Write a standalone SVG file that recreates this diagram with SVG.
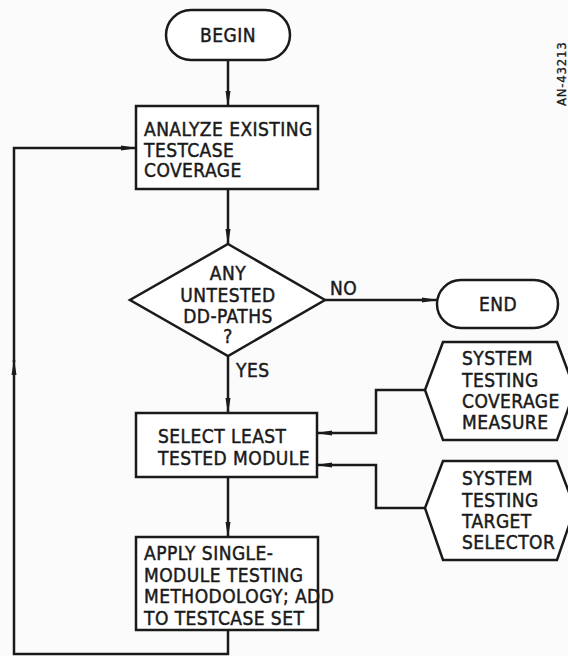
<svg xmlns="http://www.w3.org/2000/svg" width="568" height="656" viewBox="0 0 568 656">
<style>
.s{fill:#fff;stroke:#1a1a1a;stroke-width:2.5}
.c{fill:none;stroke:#1a1a1a;stroke-width:2.5;stroke-linejoin:miter}
text{font-family:"DejaVu Sans Condensed","DejaVu Sans",sans-serif;font-size:19px;letter-spacing:0.45px;fill:#1a1a1a;stroke:#1a1a1a;stroke-width:0.45}
.m{text-anchor:middle}
</style>
<defs>
<marker id="a" viewBox="0 0 16 8" refX="15" refY="4" markerWidth="16" markerHeight="8" markerUnits="userSpaceOnUse" orient="auto">
<path d="M0,1.5 L16,4 L0,6.5 Z" fill="#1a1a1a"/>
</marker>
</defs>
<rect width="568" height="656" fill="#fbfbfb"/>
<g id="connectors">
<path class="c" d="M228,60 V106" marker-end="url(#a)"/>
<path class="c" d="M228,189 V244" marker-end="url(#a)"/>
<path class="c" d="M325,300 H437" marker-end="url(#a)"/>
<path class="c" d="M228,356 V413" marker-end="url(#a)"/>
<path class="c" d="M228,477 V537" marker-end="url(#a)"/>
<path class="c" d="M425,390 H376 V433 H317" marker-end="url(#a)"/>
<path class="c" d="M425,508 H376 V465 H317" marker-end="url(#a)"/>
<path class="c" d="M228,630 V654 H14 V360"  marker-end="url(#a)"/>
<path class="c" d="M14,362 V148 H136" marker-end="url(#a)"/>
<text x="330" y="295">NO</text>
<text x="236" y="377">YES</text>
</g>
<g id="begin">
<rect class="s" x="166" y="10" width="124" height="50" rx="25"/>
<text class="m" x="228" y="42">BEGIN</text>
</g>
<g id="analyze">
<rect class="s" x="136" y="106" width="182" height="83"/>
<text x="144" y="136">ANALYZE EXISTING</text>
<text x="144" y="157">TESTCASE</text>
<text x="144" y="177">COVERAGE</text>
</g>
<g id="decision">
<polygon class="s" points="228,244 325,300 228,356 130,300"/>
<text class="m" x="228" y="280">ANY</text>
<text class="m" x="228" y="302">UNTESTED</text>
<text class="m" x="228" y="323">DD-PATHS</text>
<text class="m" x="228" y="343">?</text>
</g>
<g id="end">
<rect class="s" x="437" y="280" width="121" height="48" rx="24"/>
<text class="m" x="498" y="311">END</text>
</g>
<g id="select">
<rect class="s" x="136" y="413" width="181" height="64"/>
<text x="158" y="443">SELECT LEAST</text>
<text x="158" y="465">TESTED MODULE</text>
</g>
<g id="coverage">
<polygon class="s" points="443,342 557,342 575,390 557,440 443,440 425,390"/>
<text x="462" y="365">SYSTEM</text>
<text x="462" y="387">TESTING</text>
<text x="462" y="408">COVERAGE</text>
<text x="462" y="429">MEASURE</text>
</g>
<g id="target">
<polygon class="s" points="443,461 557,461 575,508 557,560 443,560 425,508"/>
<text x="462" y="485">SYSTEM</text>
<text x="462" y="507">TESTING</text>
<text x="462" y="528">TARGET</text>
<text x="462" y="549">SELECTOR</text>
</g>
<g id="apply">
<rect class="s" x="136" y="537" width="182" height="93"/>
<text x="144" y="560">APPLY SINGLE-</text>
<text x="144" y="582">MODULE TESTING</text>
<text x="144" y="603">METHODOLOGY; ADD</text>
<text x="144" y="625">TO TESTCASE SET</text>
</g>
<text transform="translate(566,106) rotate(-90)" style="font-size:13px;letter-spacing:0.8px;stroke-width:0.3">AN-43213</text>
</svg>
